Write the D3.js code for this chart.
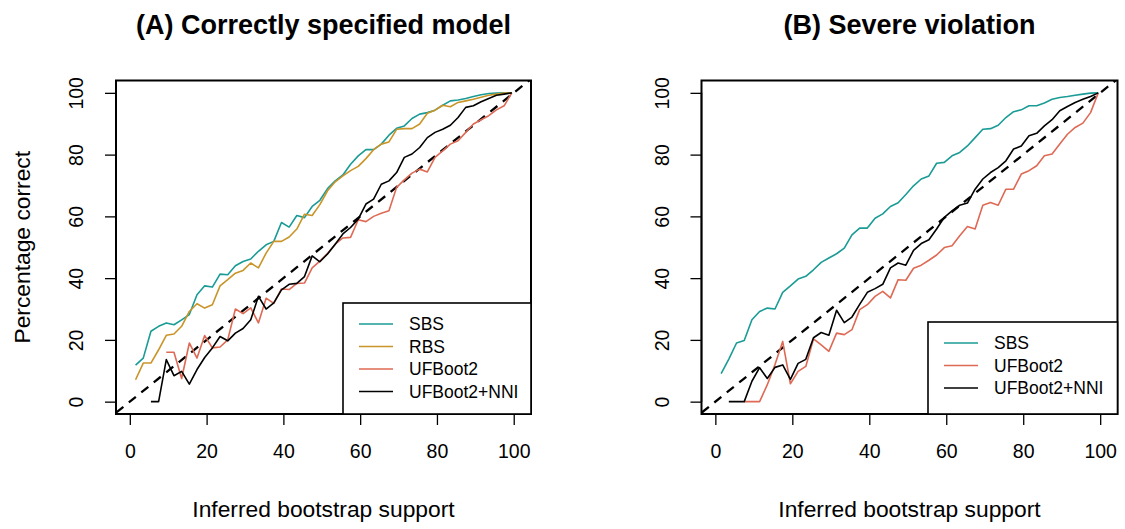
<!DOCTYPE html>
<html><head><meta charset="utf-8">
<script src="https://cdn.jsdelivr.net/npm/d3@7/dist/d3.min.js"></script>
<style>
body{margin:0;background:#fff}
svg text{font-family:"Liberation Sans",Arial,Helvetica,sans-serif;fill:#000}
</style>
</head><body>
<svg id="c" width="1125" height="529"></svg>
<script>
// ---- data ----
const xVals = [1.5,3.5,5.5,7.5,9.5,11.5,13.5,15.5,17.5,19.5,21.5,23.5,25.5,27.5,29.5,31.5,33.5,35.5,37.5,39.5,
  41.5,43.5,45.5,47.5,49.5,51.5,53.5,55.5,57.5,59.5,61.5,63.5,65.5,67.5,69.5,71.5,73.5,75.5,77.5,79.5,
  81.5,83.5,85.5,87.5,89.5,91.5,93.5,95.5,97.5,99.5];
const xTicks = [0,20,40,60,80,100];
const yTicks = [0,20,40,60,80,100];

const aSBS = [11.8,14.1,22.8,24.4,25.5,24.9,26.5,28.2,34.6,37.5,37.1,41.3,41.1,44.0,45.4,46.2,48.7,50.8,51.9,58.0,
  56.5,60.3,59.6,63.2,65.2,69.0,71.5,73.4,76.9,79.6,81.6,81.6,83.4,86.3,88.5,89.3,91.7,93.1,93.6,94.4,
  96.0,97.4,97.7,98.2,98.8,99.4,99.8,99.9,100,100];
const aRBS = [7.1,12.5,12.5,16.8,21.5,21.9,24.4,29.2,31.7,30.3,31.4,37.5,39.5,41.6,42.5,44.9,43.3,48.1,51.9,51.9,
  53.3,55.9,60.7,60.3,63.8,68.3,71.2,73.1,74.8,76.2,78.7,81.6,83.4,84.1,88.2,88.4,88.4,89.9,93.4,94.4,
  96.0,95.5,96.9,97.4,97.9,98.6,99.2,99.6,99.9,100];
const aUF = [null,null,null,null,16,16,7.5,19,14.1,21.4,17.4,17.7,20,30,28.5,30.4,25.5,33.5,31.8,36.5,
  36.3,38.3,38.4,43.3,45.5,48,51,53,53.2,58.9,58.3,60,61,61.8,69.4,71.8,74,75.3,74.4,79.1,
  81.2,83.4,84.5,87.2,89.9,91.3,92.6,94.5,95.8,100];
const aNNI = [null,null,0,0,13.6,8.4,9.8,5.7,10.4,14.3,17.4,21.1,19.7,22.2,23.7,26.5,34.1,30,32,36.2,
  38,38.3,40.5,47.2,45.3,47.8,51,54.3,56.4,59.1,64,65.6,70.4,71.5,74.2,79.1,80.2,82.3,85.5,87.2,
  88.2,89.5,92,95.3,95.8,97.1,98.2,99.2,99.6,100];

const bSBS = [9.1,13.8,19,19.8,26.5,29.2,30.3,30,35.4,37.5,39.7,40.6,42.7,45.1,46.5,47.9,49.7,54,56.2,56.2,
  59.4,60.8,63.2,64.4,67.1,69.9,72.1,73.1,77.2,77.5,79.6,80.7,82.8,85.5,88.2,88.4,89.5,92,93.9,94.5,
  95.8,95.8,96.7,97.9,98.5,98.8,99.2,99.6,99.9,100];
const bUF = [null,null,null,0,0,0,5.5,12,19.5,5.8,9.8,11.4,20.3,18.4,16.3,22.2,21.7,23.3,29.8,31.4,
  34.1,35.7,33.6,39.5,39.3,43.2,44.2,45.8,47.5,49.9,50.5,53.7,56.7,55.9,63.6,64.5,63.6,68.8,68.8,73.7,
  74.8,76.4,79.6,80.2,83.4,86.6,88.8,90.2,93.6,100];
const bNNI = [null,0,0,0,6.6,11,7.5,11.1,11.9,7.2,12.4,13.7,20.7,22.4,21.5,29.6,25.6,27.4,31.5,35.4,
  36.6,38,43.3,44.9,44.2,49,51.2,52.4,55.9,59.7,61.8,63.6,64.3,68.8,72.1,74.2,75.8,78,81.8,82.8,
  86.1,86.9,89.3,91.3,94.2,95.6,96.9,97.9,98.8,100];

const seriesColors = {"SBS":"#1a9b96","RBS":"#c99428","UFBoot2":"#de6a55","UFBoot2+NNI":"#000000"};

const panels = [
  {title:"(A) Correctly specified model", left:116, right:531, showYTitle:true,
   series:[["SBS",aSBS],["RBS",aRBS],["UFBoot2",aUF],["UFBoot2+NNI",aNNI]],
   legend:{x0:343, y0:303}},
  {title:"(B) Severe violation", left:701.5, right:1117.5, showYTitle:false,
   series:[["SBS",bSBS],["UFBoot2",bUF],["UFBoot2+NNI",bNNI]],
   legend:{x0:928, y0:322}}
];

// ---- drawing ----
const svg = d3.select("#c");
const plotTop = 80.5, plotBottom = 414;
const AFS = 22.8, TFS = 19.5;

panels.forEach((p, pi) => {
  const x = d3.scaleLinear().domain([-3.6, 104.5]).range([p.left, p.right]);
  const y = d3.scaleLinear().domain([-4, 104]).range([plotBottom, plotTop]);
  const g = svg.append("g");

  const clipId = "clip" + pi;
  svg.append("clipPath").attr("id", clipId).append("rect")
    .attr("x", p.left).attr("y", plotTop).attr("width", p.right - p.left).attr("height", plotBottom - plotTop);

  const plot = g.append("g").attr("clip-path", `url(#${clipId})`);

  plot.append("line")
    .attr("x1", x(-10)).attr("y1", y(-10)).attr("x2", x(110)).attr("y2", y(110))
    .attr("stroke", "#000").attr("stroke-width", 2.3).attr("stroke-dasharray", "9,7");

  const line = d3.line()
    .defined(d => d[1] !== null)
    .x(d => x(d[0])).y(d => y(d[1]));

  p.series.forEach(([name, vals]) => {
    const pts = xVals.map((xv, i) => [xv, vals[i]]);
    plot.append("path").datum(pts)
      .attr("d", line)
      .attr("fill", "none")
      .attr("stroke", seriesColors[name])
      .attr("stroke-width", 1.6)
      .attr("stroke-linejoin", "round");
  });

  g.append("rect").attr("x", p.left).attr("y", plotTop)
    .attr("width", p.right - p.left).attr("height", plotBottom - plotTop)
    .attr("fill", "none").attr("stroke", "#000").attr("stroke-width", 2);

  const xa = g.append("g").attr("transform", `translate(0,${plotBottom})`)
    .call(d3.axisBottom(x).tickValues(xTicks).tickSize(11).tickSizeOuter(0).tickPadding(0));
  xa.select(".domain").attr("d", `M${x(0)},0H${x(100)}`).attr("stroke-width", 1.5);
  xa.selectAll(".tick line").attr("stroke-width", 1.3);
  xa.selectAll(".tick text").attr("font-size", TFS).attr("y", 0).attr("dy", 0)
    .attr("transform", "translate(0,44)");

  const ya = g.append("g").attr("transform", `translate(${p.left},0)`)
    .call(d3.axisLeft(y).tickValues(yTicks).tickSize(11).tickSizeOuter(0));
  ya.select(".domain").attr("d", `M0,${y(0)}V${y(100)}`).attr("stroke-width", 1.5);
  ya.selectAll(".tick line").attr("stroke-width", 1.3);
  ya.selectAll(".tick text")
    .attr("font-size", TFS).attr("x", 0).attr("dy", 0)
    .attr("text-anchor", "middle")
    .attr("dominant-baseline", "central")
    .attr("transform", "translate(-40,0) rotate(-90)");

  g.append("text").attr("x", (p.left + p.right) / 2).attr("y", 34)
    .attr("text-anchor", "middle").attr("font-size", 27).attr("font-weight", "bold")
    .text(p.title);

  g.append("text").attr("x", (p.left + p.right) / 2).attr("y", 517)
    .attr("text-anchor", "middle").attr("font-size", AFS)
    .text("Inferred bootstrap support");

  if (p.showYTitle) {
    g.append("text")
      .attr("transform", `translate(30,${(plotTop + plotBottom) / 2}) rotate(-90)`)
      .attr("text-anchor", "middle").attr("font-size", AFS)
      .text("Percentage correct");
  }

  const L = p.legend;
  const lh = 22.5;
  g.append("rect").attr("x", L.x0).attr("y", L.y0)
    .attr("width", p.right - L.x0).attr("height", plotBottom - L.y0)
    .attr("fill", "#fff").attr("stroke", "#000").attr("stroke-width", 1.6);
  p.series.forEach(([name], i) => {
    const cy = L.y0 + 21 + i * lh;
    g.append("line").attr("x1", L.x0 + 16).attr("x2", L.x0 + 50)
      .attr("y1", cy).attr("y2", cy)
      .attr("stroke", seriesColors[name]).attr("stroke-width", 1.6);
    g.append("text").attr("x", L.x0 + 66).attr("y", cy)
      .attr("dominant-baseline", "central").attr("font-size", 17.5)
      .text(name);
  });
});
</script>
</body></html>
